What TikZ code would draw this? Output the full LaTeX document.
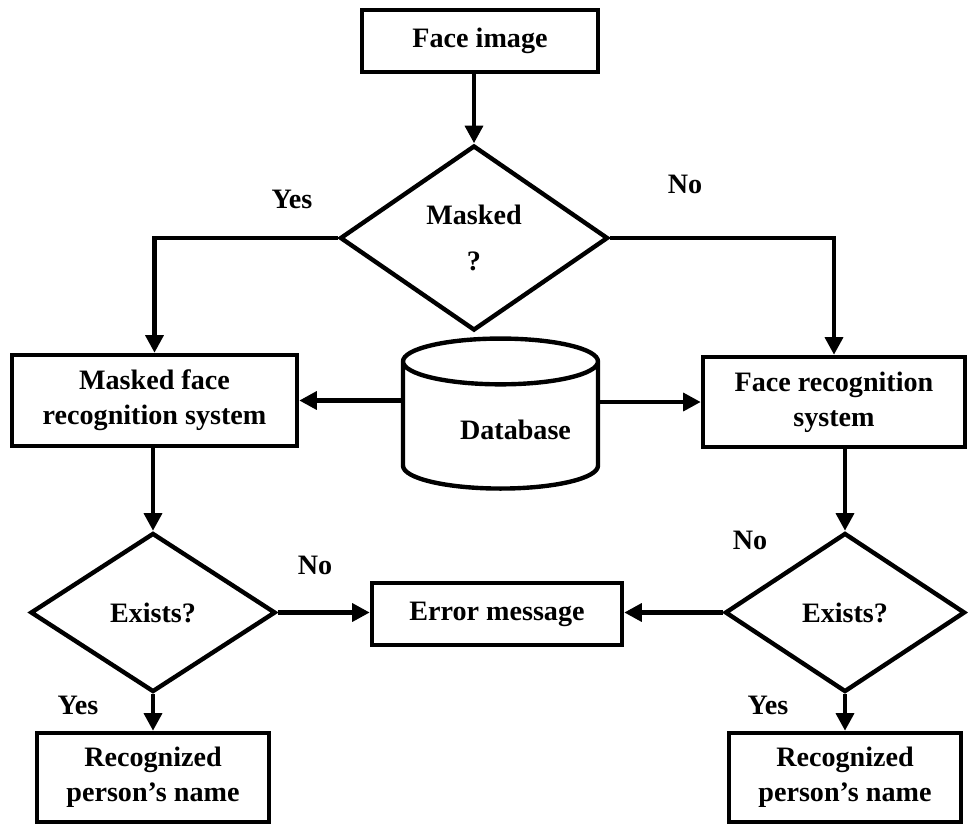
\documentclass[tikz,border=0pt]{standalone}
\usepackage{fontspec}
\setmainfont{Liberation Serif}
\usetikzlibrary{shapes.geometric,arrows.meta}

\begin{document}
\begin{tikzpicture}[
    box/.style={draw,line width=2.5pt,align=center,font=\bfseries\fontsize{16}{20}\selectfont},
    decision/.style={diamond,draw,line width=2.5pt,align=center,inner sep=0pt,font=\bfseries\fontsize{16}{20}\selectfont},
    arr/.style={line width=2.5pt,-{Triangle[length=10pt,width=10pt]}},
    lbl/.style={font=\bfseries\fontsize{16}{20}\selectfont}]
    \useasboundingbox (0,0) rectangle (19.36,-16.5);
    \node[box,minimum width=4.72cm,minimum height=1.24cm] (face) at (9.6,-0.82) {Face image};
    \node[decision,minimum width=5.36cm,minimum height=3.7cm] (masked) at (9.48,-4.76) {Masked\\[6pt]?};
    \node[box,minimum width=5.7cm,minimum height=1.82cm] (mfr) at (3.09,-8.01) {Masked face\\recognition system};
    \node[box,minimum width=5.24cm,minimum height=1.8cm] (fr) at (16.68,-8.04) {Face recognition\\system};
    \node[cylinder,shape border rotate=90,draw,line width=2.5pt,aspect=0.3,minimum width=3.9cm,minimum height=3cm,font=\bfseries\fontsize{16}{20}\selectfont] (db) at (10.01,-8.6) {\hspace*{0.6cm}Database};
    \node[decision,minimum width=4.9cm,minimum height=3.18cm] (lex) at (3.06,-12.25) {Exists?};
    \node[decision,minimum width=4.8cm,minimum height=3.18cm] (rex) at (16.9,-12.25) {Exists?};
    \node[box,minimum width=5cm,minimum height=1.24cm] (err) at (9.94,-12.28) {Error message};
    \node[box,minimum width=4.64cm,minimum height=1.78cm] (lname) at (3.06,-15.55) {Recognized\\person’s name};
    \node[box,minimum width=4.64cm,minimum height=1.78cm] (rname) at (16.9,-15.55) {Recognized\\person’s name};

    \node[lbl] (yesmasked) at (5.84,-3.98) {Yes};
    \node[lbl] (nomasked) at (13.7,-3.68) {No};
    \node[lbl] (nolex) at (6.3,-11.3) {No};
    \node[lbl] (norex) at (15.0,-10.8) {No};
    \node[lbl] (yeslex) at (1.56,-14.1) {Yes};
    \node[lbl] (yesrex) at (15.36,-14.1) {Yes};

    \draw[arr] (masked.north |- face.south) -- (masked.north);
    \draw[arr] (masked.west) -| (mfr.north);
    \draw[arr] (masked.east) -| (fr.north);
    \draw[arr] (db.west |- mfr.east) -- (mfr.east);
    \draw[arr] (db.east |- fr.west) -- (fr.west);
    \draw[arr] (mfr.south -| lex.north) -- (lex.north);
    \draw[arr] (fr.south -| rex.north) -- (rex.north);
    \draw[arr] (lex.east) -- (lex.east -| err.west);
    \draw[arr] (rex.west) -- (rex.west -| err.east);
    \draw[arr] (lex.south) -- (lname.north);
    \draw[arr] (rex.south) -- (rname.north);
\end{tikzpicture}
\end{document}
